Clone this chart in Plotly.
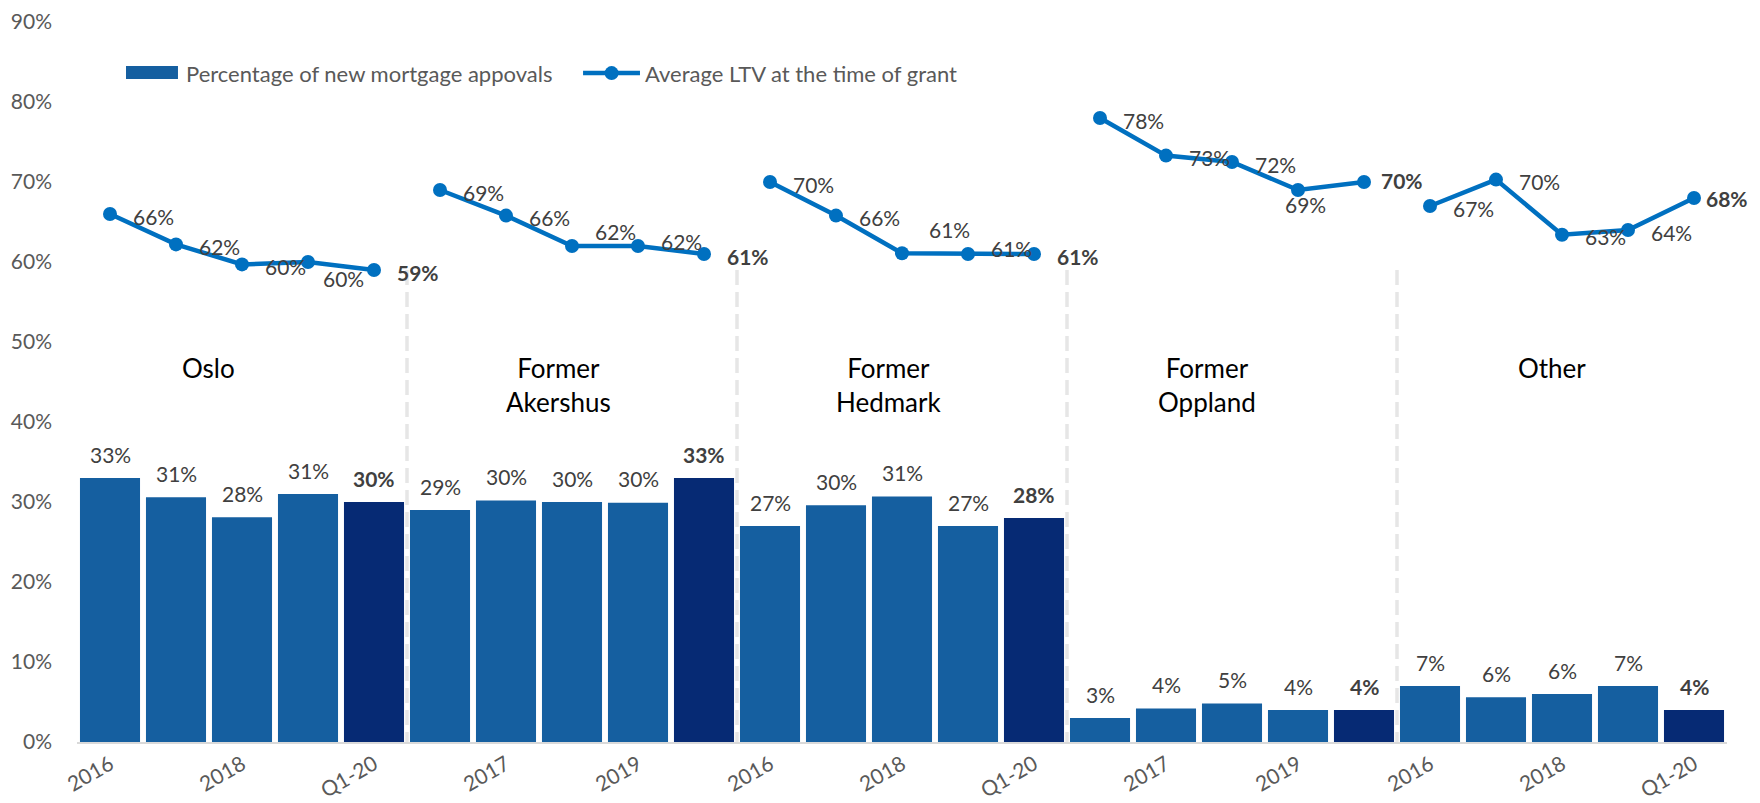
import plotly.graph_objects as go

# --- data -------------------------------------------------------------
groups = ["Oslo", "Former<br>Akershus", "Former<br>Hedmark", "Former<br>Oppland", "Other"]
periods = ["2016", "2017", "2018", "2019", "Q1-20"]

share_oslo = [0.33, 0.306, 0.281, 0.31, 0.30]
share_akershus = [0.29, 0.302, 0.30, 0.299, 0.33]
share_hedmark = [0.27, 0.296, 0.307, 0.27, 0.28]
share_oppland = [0.03, 0.042, 0.048, 0.04, 0.04]
share_other = [0.07, 0.056, 0.06, 0.07, 0.04]

ltv_oslo = [0.66, 0.622, 0.597, 0.60, 0.59]
ltv_akershus = [0.69, 0.658, 0.62, 0.62, 0.61]
ltv_hedmark = [0.70, 0.658, 0.611, 0.61, 0.61]
ltv_oppland = [0.78, 0.733, 0.725, 0.69, 0.70]
ltv_other = [0.67, 0.703, 0.634, 0.64, 0.68]

shares = [share_oslo, share_akershus, share_hedmark, share_oppland, share_other]
ltvs = [ltv_oslo, ltv_akershus, ltv_hedmark, ltv_oppland, ltv_other]

# --- styling ----------------------------------------------------------
FONT = "Lato, 'Open Sans', sans-serif"
BAR = "#155FA0"
BAR_LAST = "#062A74"
LINE = "#0070C0"
LBL = "#404040"
TICK = "#595959"
SEP = "#E6E6E6"
LS = 21  # data label size

# label placement for the LTV points: (xanchor, xshift, yshift)
R = ("left", 21, -2)
ltv_pos = [
    [R, R, R, ("center", 35, -16), R],
    [R, R, ("left", 21, 15), ("left", 21, 5), R],
    [R, R, ("left", 25, 24), ("left", 21, 6), R],
    [R, R, R, ("center", 7, -14), ("left", 15, 2)],
    [R, R, R, R, ("left", 10, 0)],
]
group_xshift = [-34, -14, -13, -25, -10]

n = len(periods)
xs = list(range(len(groups) * n))
y_share = [v for g in shares for v in g]
bar_colors = [BAR_LAST if i % n == n - 1 else BAR for i in xs]

fig = go.Figure()
fig.add_trace(go.Bar(x=xs, y=y_share, marker_color=bar_colors, marker_line_width=0,
                     showlegend=False, hoverinfo="skip"))

annotations = []
for gi, (g, sh, lt) in enumerate(zip(groups, shares, ltvs)):
    gx = [gi * n + k for k in range(n)]
    fig.add_trace(go.Scatter(x=gx, y=lt, mode="lines+markers", showlegend=False,
                             line=dict(color=LINE, width=4.5),
                             marker=dict(color=LINE, size=14), hoverinfo="skip"))
    for k in range(n):
        last = k == n - 1
        t = f"{round(sh[k] * 100)}%"
        annotations.append(dict(x=gx[k], y=sh[k], text=f"<b>{t}</b>" if last else t,
                                showarrow=False, yanchor="middle", yshift=24,
                                font=dict(size=LS, color=LBL, family=FONT)))
        t = f"{round(lt[k] * 100)}%"
        xa, dx, dy = ltv_pos[gi][k]
        annotations.append(dict(x=gx[k], y=lt[k], text=f"<b>{t}</b>" if last else t,
                                showarrow=False, xanchor=xa, xshift=dx, yanchor="middle", yshift=dy,
                                font=dict(size=LS, color=LBL, family=FONT)))
    annotations.append(dict(x=gi * n + 2, y=0.49, text=g, showarrow=False, yanchor="top",
                            xshift=group_xshift[gi], align="center",
                            font=dict(size=26, color="#000000", family=FONT)))

# legend drawn by hand so the swatches keep the wide Excel look
annotations += [
    dict(xref="paper", yref="paper", x=0.065, y=0.929, xanchor="left", yanchor="middle",
         showarrow=False, text="Percentage of new mortgage appovals",
         font=dict(size=22, color=TICK, family=FONT)),
    dict(xref="paper", yref="paper", x=0.343, y=0.929, xanchor="left", yanchor="middle",
         showarrow=False, text="Average LTV at the time of grant",
         font=dict(size=22, color=TICK, family=FONT)),
]
shapes = [
    dict(type="rect", xref="paper", yref="paper", x0=0.0297, x1=0.0612, y0=0.921, y1=0.939,
         fillcolor=BAR, line_width=0),
    dict(type="line", xref="paper", yref="paper", x0=0.3067, x1=0.3412, y0=0.929, y1=0.929,
         line=dict(color=LINE, width=4.5)),
    dict(type="circle", xref="paper", yref="paper", xsizemode="pixel", ysizemode="pixel",
         xanchor=0.324, yanchor=0.929, x0=-7, x1=7, y0=-7, y1=7, fillcolor=LINE, line_width=0),
]
for gi in range(1, len(groups)):
    shapes.append(dict(type="line", x0=gi * n - 0.5, x1=gi * n - 0.5, y0=0.59, y1=0,
                       line=dict(color=SEP, width=3.5, dash="15px,7px")))

tickvals = xs[::2]
ticktext = [periods[i % n] for i in tickvals]

# page body has an 8px margin, so the figure is sized to fit the window
fig.update_layout(
    width=1752, height=795,
    paper_bgcolor="white", plot_bgcolor="white",
    margin=dict(l=69, r=33, t=14, b=61),
    font=dict(family=FONT, color=TICK, size=21),
    bargap=0.09,
    showlegend=False,
    annotations=annotations,
    shapes=shapes,
    xaxis=dict(range=[-0.5, len(xs) - 0.5], tickvals=tickvals, ticktext=ticktext,
               tickangle=-30, showgrid=False, zeroline=False, showline=True, automargin=False,
               linecolor="#D9D9D9", linewidth=2, tickfont=dict(size=21, color=TICK)),
    yaxis=dict(range=[0, 0.9], tickvals=[i / 10 for i in range(10)], tickformat=".0%",
               showgrid=False, zeroline=False, automargin=False, ticklabeloverflow="allow",
               ticklabelstandoff=24, tickfont=dict(size=21, color=TICK)),
)

fig.write_html("out.html")
